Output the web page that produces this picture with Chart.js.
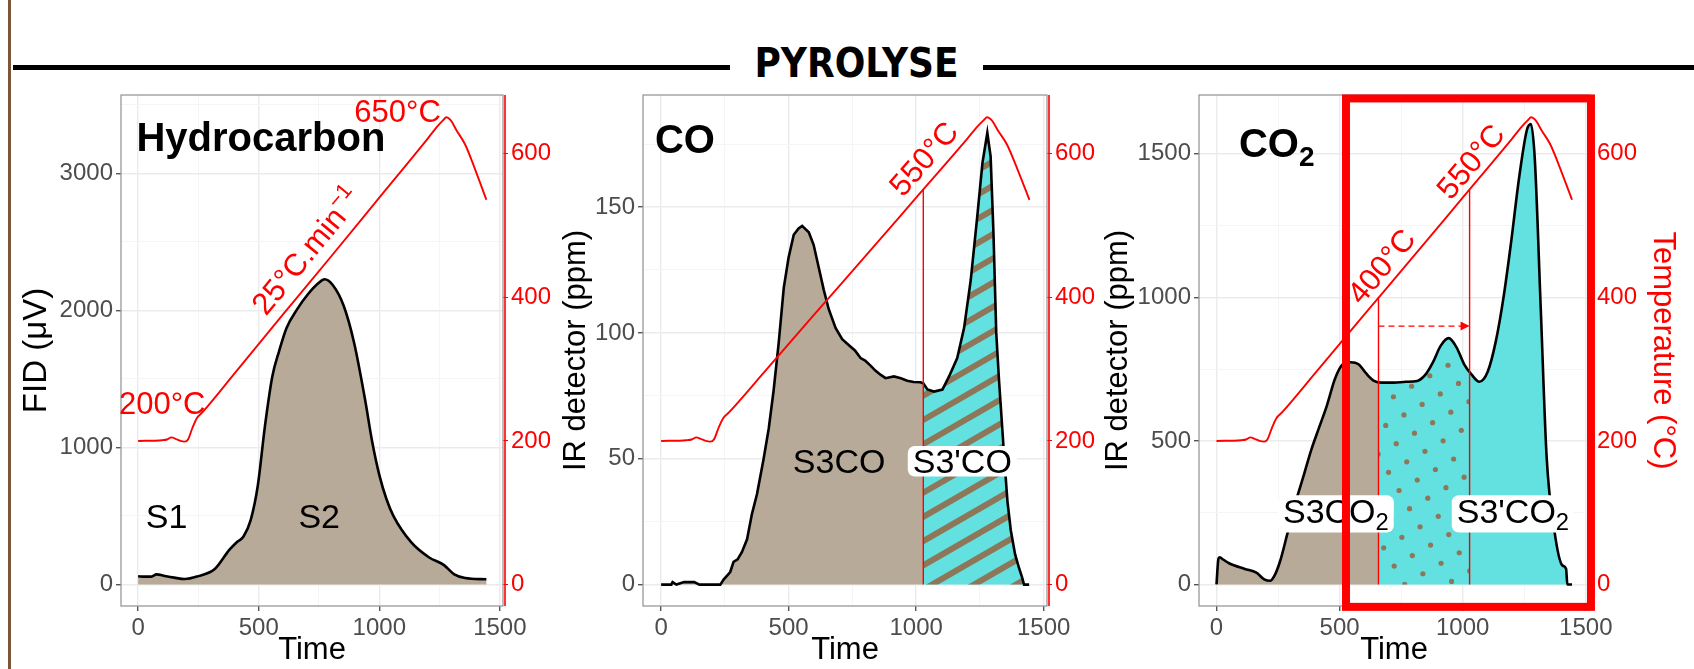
<!DOCTYPE html>
<html>
<head>
<meta charset="utf-8">
<script src="https://cdn.jsdelivr.net/npm/chart.js@4.4.0/dist/chart.umd.min.js"></script>
<style>
  body { margin: 0; width: 1694px; height: 669px; background: #fff; overflow: hidden; position: relative; }
  canvas { position: absolute; left: 0; top: 0; }
  #bar { position: absolute; left: 8px; top: 0; width: 3px; height: 669px; background: #7b5637; }
  .rule { position: absolute; top: 65px; height: 5px; background: #000; }
  #title { position: absolute; left: 730px; width: 253px; top: 40px; height: 54px; line-height: 54px;
           text-align: center; font: bold 40px "Liberation Sans Narrow", "DejaVu Sans Condensed", sans-serif; color: #000; }
</style>
</head>
<body>
<div id="bar"></div>
<div class="rule" style="left:13px;width:717px"></div>
<div class="rule" style="left:983px;width:711px"></div>
<div id="title">PYROLYSE</div>
<canvas id="c1" width="1694" height="669"></canvas>
<canvas id="c2" width="1694" height="669"></canvas>
<canvas id="c3" width="1694" height="669"></canvas>
<script>
// ---- data (time in s) ----
const timeTicks = [0, 500, 1000, 1500];
const timeMinor = [250, 750, 1250];
const timeRange = [-71, 1513];

// oven temperature, same program in all three panels
const tempTicks = [0, 200, 400, 600];
const tempRange = [-30, 682];
const tempTime  = [0, 100, 120, 138, 155, 175, 193, 207, 225, 244, 267, 400, 600, 800, 1000, 1200, 1240, 1265, 1278, 1290, 1300, 1320, 1356, 1400, 1444];
const tempValue = [200, 201, 202, 205, 203, 200, 199, 202, 218, 232, 240, 294, 376, 457, 539, 621, 638, 647, 651, 649, 645, 633, 613, 576, 536];

// hydrocarbon FID (µV)
const fidTicks = [0, 1000, 2000, 3000];
const fidMinor = [500, 1500, 2500, 3500];
const fidRange = [-157, 3571];
const fidTime  = [0, 30, 52, 77, 111, 150, 193, 244, 319, 378, 410, 437, 467, 496, 526, 556, 585, 615, 659, 704, 748, 773, 807, 852, 896, 941, 970, 1000, 1030, 1059, 1133, 1207, 1267, 1311, 1356, 1444];
const fidValue = [60, 57, 57, 74, 62, 50, 40, 58, 115, 252, 310, 350, 472, 718, 1157, 1514, 1705, 1870, 2007, 2117, 2199, 2227, 2185, 2035, 1760, 1349, 1047, 800, 622, 499, 307, 197, 143, 74, 47, 38];

// CO (ppm)
const coTicks = [0, 50, 100, 150];
const coMinor = [25, 75, 125, 175];
const coRange = [-8.5, 194.5];
const coTime  = [0, 40, 45, 60, 90, 130, 150, 232, 245, 271, 284, 300, 317, 337, 356, 376, 402, 422, 441, 461, 481, 500, 520, 539, 553, 579, 598, 618, 638, 657, 684, 710, 742, 760, 782, 800, 821, 840, 860, 880, 913, 940, 965, 990, 1017, 1028, 1044, 1070, 1103, 1129, 1161, 1188, 1214, 1240, 1260, 1279, 1292, 1303, 1314, 1325, 1345, 1358, 1371, 1388, 1403, 1415, 1423, 1443];
const coValue = [0, 0, 1, 0, 1, 1, 0, 0, 2, 5, 9, 10, 13, 18, 28, 36, 50, 62, 77, 96, 118, 130, 139, 141.5, 142.5, 140, 135, 126, 117, 109.5, 102, 97.5, 94.6, 93, 90, 89, 87, 85, 83.4, 82, 82.7, 82, 81, 80.5, 80.4, 80, 77.5, 76.7, 77.5, 82.7, 90, 102, 121, 146.7, 167.6, 179.5, 170, 140, 100, 81, 51, 33, 21.6, 12, 6.7, 3, 0, 0];

// CO2 (ppm)
const co2Ticks = [0, 500, 1000, 1500];
const co2Minor = [250, 750, 1250];
const co2Range = [-75, 1705];
const co2Time  = [0, 8, 14, 25, 51, 115, 162, 194, 218, 234, 258, 290, 322, 354, 385, 417, 449, 481, 513, 545, 577, 608, 640, 672, 720, 768, 815, 847, 879, 911, 943, 975, 1006, 1038, 1067, 1102, 1134, 1166, 1197, 1229, 1261, 1277, 1293, 1317, 1341, 1373, 1404, 1420, 1425, 1444];
const co2Value = [0, 90, 95, 88, 74, 54, 41, 18, 13, 28, 80, 184, 288, 379, 469, 547, 625, 716, 767, 774, 767, 735, 709, 703, 703, 706, 709, 729, 774, 832, 858, 826, 767, 729, 706, 742, 845, 1001, 1195, 1416, 1584, 1604, 1480, 962, 443, 184, 67, 54, 0, 0];

// S3 / S3' cut points
const cutTime = [658, 1028];
const cutTemp = [400, 550];
const arrowPpm = 900;

const TAN = '#b8aa98', CYAN = '#63e0e0', BROWN = '#8e7659', RED = '#ff0000';
const FONT = '"Liberation Sans", Arial, sans-serif';

function pts(t, v) { return t.map((x, i) => ({x: x, y: v[i]})); }

function drawStripes(ctx, x1, y1, x2, y2, ox, oy) {
  const a = Math.PI / 6, sp = 21;
  const dx = Math.cos(a), dy = -Math.sin(a), nx = -dy, ny = dx;
  const cs = [[x1, y1], [x2, y1], [x1, y2], [x2, y2]].map(([px, py]) => (px - ox) * nx + (py - oy) * ny);
  const c0 = Math.floor(Math.min(...cs) / sp) * sp, c1 = Math.max(...cs) + sp;
  ctx.strokeStyle = BROWN; ctx.lineWidth = 6;
  for (let c = c0; c <= c1; c += sp) {
    const px = ox + nx * c, py = oy + ny * c;
    ctx.beginPath(); ctx.moveTo(px - dx * 3000, py - dy * 3000); ctx.lineTo(px + dx * 3000, py + dy * 3000); ctx.stroke();
  }
}

function drawDots(ctx, x1, y1, x2, y2, ox, oy) {
  const a = Math.PI / 6, sp = 21;
  const u = [Math.cos(a), -Math.sin(a)], v = [Math.sin(a), Math.cos(a)];
  ctx.fillStyle = BROWN;
  for (let i = -80; i <= 80; i++) {
    for (let j = -80; j <= 80; j++) {
      const px = ox + (i * u[0] + j * v[0]) * sp, py = oy + (i * u[1] + j * v[1]) * sp;
      if (px < x1 - 4 || px > x2 + 4 || py < y1 - 4 || py > y2 + 4) continue;
      ctx.beginPath(); ctx.arc(px, py, 2.6, 0, Math.PI * 2); ctx.fill();
    }
  }
}

// text with optional sub/superscript parts, centred (or left) on the cap height
function drawRich(ctx, parts, px, py, o) {
  const s = o.size, ss = s * 0.7;
  const f = sz => (o.bold ? 'bold ' : '') + sz + 'px ' + FONT;
  const widths = parts.map(([t, m]) => { ctx.font = f(m ? ss : s); return ctx.measureText(t).width; });
  const w = widths.reduce((p, q) => p + q, 0);
  const hasSub = parts.some(p => p[1] === 'sub');
  ctx.save();
  ctx.translate(px, py);
  if (o.angle) ctx.rotate(-o.angle);
  let sx = o.align === 'left' ? 0 : -w / 2;
  if (o.box) {
    const bx = sx - 5, by = -0.36 * s - 3, bw = w + 10, bh = 0.72 * s + 6 + (hasSub ? 0.2 * s : 0);
    ctx.fillStyle = '#fff';
    ctx.beginPath(); ctx.roundRect(bx, by, bw, bh, 7); ctx.fill();
  }
  ctx.fillStyle = o.color || '#000';
  ctx.textBaseline = 'alphabetic'; ctx.textAlign = 'left';
  parts.forEach(([t, m], i) => {
    ctx.font = f(m ? ss : s);
    const dy = m === 'sub' ? 0.22 * s : m === 'sup' ? -0.42 * s : 0;
    ctx.fillText(t, sx, 0.36 * s + dy);
    sx += widths[i];
  });
  ctx.restore();
}

const decor = {
  id: 'decor',
  beforeDatasetsDraw(chart, args, o) {
    const {ctx, chartArea: a, scales: {x, y}} = chart;
    const line = chart.getDatasetMeta(1).dataset;
    line.updateControlPoints(a, 'x');
    const p = line.points;
    const y0 = y.getPixelForValue(0);
    for (const r of o.regions) {
      const x1 = r.from == null ? a.left : x.getPixelForValue(r.from);
      const x2 = r.to == null ? a.right : x.getPixelForValue(r.to);
      ctx.save();
      ctx.beginPath(); ctx.rect(x1, a.top, x2 - x1, a.bottom - a.top); ctx.clip();
      ctx.beginPath(); line.path(ctx);
      ctx.lineTo(p[p.length - 1].x, y0); ctx.lineTo(p[0].x, y0); ctx.closePath();
      ctx.clip();
      ctx.fillStyle = r.fill; ctx.fillRect(x1, a.top, x2 - x1, a.bottom - a.top);
      if (r.pattern === 'stripes') drawStripes(ctx, x1, a.top, x2, a.bottom, a.left, a.bottom);
      if (r.pattern === 'dots') drawDots(ctx, x1, a.top, x2, a.bottom, a.left, a.bottom);
      ctx.restore();
    }
    ctx.save();
    ctx.strokeStyle = '#999'; ctx.lineWidth = 1.3;
    ctx.strokeRect(a.left, a.top, a.right - a.left, a.bottom - a.top);
    ctx.strokeStyle = RED; ctx.lineWidth = 1.6;
    ctx.beginPath(); ctx.moveTo(a.right + 2, a.top); ctx.lineTo(a.right + 2, a.bottom); ctx.stroke();
    ctx.restore();
  },
  afterDatasetsDraw(chart, args, o) {
    const {ctx, scales: {x, y, y2}} = chart;
    const y0 = y.getPixelForValue(0);
    ctx.save();
    ctx.strokeStyle = RED; ctx.lineWidth = 1.4;
    (o.cuts || []).forEach(i => {
      const px = x.getPixelForValue(cutTime[i]);
      ctx.beginPath(); ctx.moveTo(px, y0); ctx.lineTo(px, y2.getPixelForValue(cutTemp[i])); ctx.stroke();
    });
    if (o.arrow) {
      const xa = x.getPixelForValue(cutTime[0]), xb = x.getPixelForValue(cutTime[1]), ya = y.getPixelForValue(arrowPpm);
      ctx.setLineDash([6, 4]);
      ctx.beginPath(); ctx.moveTo(xa, ya); ctx.lineTo(xb - 6, ya); ctx.stroke();
      ctx.setLineDash([]);
      ctx.fillStyle = RED;
      ctx.beginPath(); ctx.moveTo(xb, ya); ctx.lineTo(xb - 9, ya - 4.5); ctx.lineTo(xb - 9, ya + 4.5); ctx.closePath(); ctx.fill();
    }
    ctx.restore();
    // slope of the heating ramp, for the rotated labels
    const i1 = tempTime.indexOf(400), i2 = tempTime.indexOf(1000);
    const ang = Math.atan2(y2.getPixelForValue(tempValue[i1]) - y2.getPixelForValue(tempValue[i2]),
                           x.getPixelForValue(tempTime[i2]) - x.getPixelForValue(tempTime[i1]));
    for (const l of o.labels) {
      const sc = l.axis === 'y2' ? y2 : y;
      drawRich(ctx, l.parts, x.getPixelForValue(l.t), sc.getPixelForValue(l.v),
        {size: l.size, bold: l.bold, color: l.color, align: l.align, box: l.box, angle: l.rot ? ang : 0});
    }
  },
  afterDraw(chart, args, o) {
    if (!o.box) return;
    const {ctx, scales: {x, y}} = chart;
    const x1 = x.getPixelForValue(o.box.t[0]), x2 = x.getPixelForValue(o.box.t[1]);
    const y1 = y.getPixelForValue(o.box.v[1]), y2 = y.getPixelForValue(o.box.v[0]);
    ctx.save(); ctx.strokeStyle = RED; ctx.lineWidth = 8;
    ctx.strokeRect(x1, y1, x2 - x1, y2 - y1); ctx.restore();
  }
};

function tickScale(major, minor, extra) {
  const all = major.concat(minor).sort((a, b) => a - b);
  return Object.assign({
    afterBuildTicks: s => { s.ticks = all.map(v => ({value: v})); },
    ticks: {
      autoSkip: false, maxRotation: 0, minRotation: 0, padding: 3, color: '#4d4d4d',
      font: {family: FONT, size: 24},
      callback: v => major.includes(v) ? String(v) : ''
    },
    grid: {
      color: c => major.includes(c.tick.value) ? '#ebebeb' : '#f5f5f5',
      lineWidth: c => major.includes(c.tick.value) ? 1.4 : 1,
      tickLength: 5,
      tickColor: c => major.includes(c.tick.value) ? '#555' : 'rgba(0,0,0,0)'
    },
    border: {display: false}
  }, extra);
}

function panel(id, p) {
  return new Chart(document.getElementById(id), {
    type: 'line',
    data: {
      datasets: [
        {data: pts(tempTime, tempValue), yAxisID: 'y2', borderColor: RED, borderWidth: 1.9,
         pointRadius: 0, cubicInterpolationMode: 'monotone', fill: false},
        {data: pts(p.time, p.value), yAxisID: 'y', borderColor: '#000', borderWidth: 2.6,
         pointRadius: 0, tension: 0, cubicInterpolationMode: p.smooth ? 'monotone' : 'default', fill: false}
      ]
    },
    options: {
      responsive: false, animation: false, events: [],
      layout: {padding: {left: p.padL, right: 1694 - p.right - p.y2w, top: 95, bottom: 0}},
      plugins: {legend: {display: false}, tooltip: {enabled: false},
                decor: {regions: p.regions, labels: p.labels, cuts: p.cuts, arrow: p.arrow, box: p.box}},
      scales: {
        x: tickScale(timeTicks, timeMinor, {type: 'linear', min: timeRange[0], max: timeRange[1],
          afterFit: s => { s.height = 63; },
          title: {display: true, text: 'Time', color: '#000', padding: 0, font: {family: FONT, size: 31}}}),
        y: tickScale(p.ticks, p.minor, {position: 'left', min: p.range[0], max: p.range[1],
          afterFit: s => { s.width = p.left - p.padL; },
          title: {display: true, text: p.ylab, color: '#000', padding: 0, font: {family: FONT, size: p.ylabSize || 31}}}),
        y2: {position: 'right', min: tempRange[0], max: tempRange[1],
          afterFit: s => { s.width = p.y2w; },
          afterBuildTicks: s => { s.ticks = tempTicks.map(v => ({value: v})); },
          ticks: {autoSkip: false, padding: 3, color: RED, font: {family: FONT, size: 24}},
          grid: {drawOnChartArea: false, tickLength: 5, tickColor: RED},
          border: {display: false},
          title: {display: !!p.y2lab, text: p.y2lab || '', color: RED, padding: 0, font: {family: FONT, size: 31}}}
      }
    },
    plugins: [decor]
  });
}

panel('c1', {
  time: fidTime, value: fidValue, ticks: fidTicks, minor: fidMinor, range: fidRange, smooth: true,
  ylab: 'FID (μV)', ylabSize: 33, padL: 17, left: 121, right: 503, y2w: 60,
  regions: [{fill: TAN}],
  labels: [
    {parts: [['Hydrocarbon']], t: -7, v: 3268, size: 40, bold: true, align: 'left'},
    {parts: [['650°C']], t: 1076, v: 660, axis: 'y2', size: 31, color: RED},
    {parts: [['200°C']], t: 100, v: 253, axis: 'y2', size: 31, color: RED},
    {parts: [['25°C.min'], ['−1', 'sup']], t: 696, v: 465, axis: 'y2', size: 31, color: RED, rot: true},
    {parts: [['S1']], t: 118, v: 499, size: 34},
    {parts: [['S2']], t: 751, v: 499, size: 34}
  ]
});

panel('c2', {
  time: coTime, value: coValue, ticks: coTicks, minor: coMinor, range: coRange, smooth: false,
  ylab: 'IR detector (ppm)', padL: 558, left: 643, right: 1047, y2w: 60,
  regions: [{to: cutTime[1], fill: TAN}, {from: cutTime[1], fill: CYAN, pattern: 'stripes'}],
  cuts: [1],
  labels: [
    {parts: [['CO']], t: -24, v: 177, size: 40, bold: true, align: 'left'},
    {parts: [['550°C']], t: 1027, v: 594, axis: 'y2', size: 31, color: RED, rot: true},
    {parts: [['S3CO']], t: 698, v: 49, size: 34},
    {parts: [["S3'CO"]], t: 1181, v: 49, size: 34, box: true}
  ]
});

panel('c3', {
  time: co2Time, value: co2Value, ticks: co2Ticks, minor: co2Minor, range: co2Range, smooth: true,
  ylab: 'IR detector (ppm)', y2lab: 'Temperature (°C)', padL: 1100, left: 1199, right: 1589, y2w: 92,
  regions: [{to: cutTime[0], fill: TAN}, {from: cutTime[0], to: cutTime[1], fill: CYAN, pattern: 'dots'},
            {from: cutTime[1], fill: CYAN}],
  cuts: [0, 1], arrow: true,
  box: {t: [526, 1521], v: [-78, 1693]},
  labels: [
    {parts: [['CO'], ['2', 'sub']], t: 91, v: 1539, size: 40, bold: true, align: 'left'},
    {parts: [['400°C']], t: 667, v: 444, axis: 'y2', size: 31, color: RED, rot: true},
    {parts: [['550°C']], t: 1030, v: 590, axis: 'y2', size: 31, color: RED, rot: true},
    {parts: [['S3CO'], ['2', 'sub']], t: 485, v: 258, size: 34, box: true},
    {parts: [["S3'CO"], ['2', 'sub']], t: 1204, v: 258, size: 34, box: true}
  ]
});
</script>
</body>
</html>
